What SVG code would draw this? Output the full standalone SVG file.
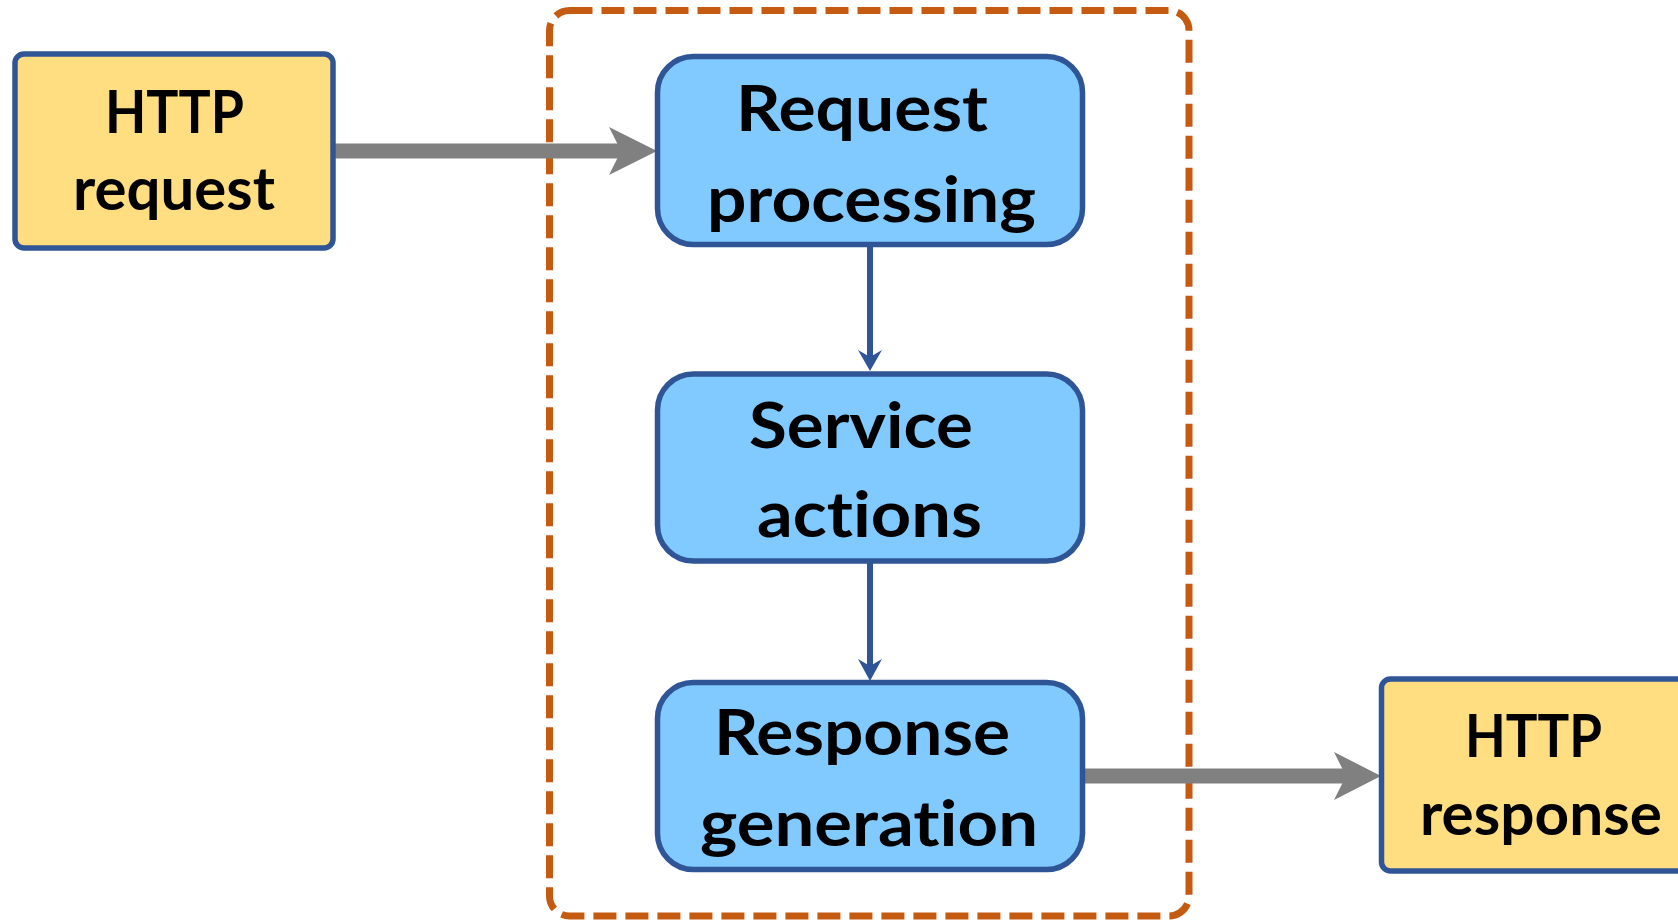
<svg xmlns="http://www.w3.org/2000/svg" width="1678" height="920" viewBox="0 0 1678 920">
  <style>
    .io { fill: #FFDE81; stroke: #2F5597; stroke-width: 5.5; }
    .step { fill: #80CAFF; stroke: #2F5597; stroke-width: 5.5; }
    .lbl { font-family: Lato, "Open Sans", "Liberation Sans", sans-serif; font-weight: bold; fill: #000; font-variant-ligatures: none; font-feature-settings: "liga" 0, "clig" 0; }
    .big { font-size: 64px; }
    .mid { font-size: 60px; }
    .gray { stroke: #808080; stroke-width: 15; fill: none; }
    .blue { stroke: #2F5597; stroke-width: 6; fill: none; }
  </style>
  <rect width="1678" height="920" fill="#FFFFFF"/>

  <g id="container">
    <rect x="549.5" y="10.5" width="639.5" height="905.5" rx="20" ry="20" fill="none" stroke="#C55A11" stroke-width="7" stroke-dasharray="23 9"/>
  </g>

  <g id="connectors">
    <line class="gray" x1="334" y1="151" x2="622" y2="151"/>
    <polygon points="657,151 609,127 621,151 609,175" fill="#808080"/>
    <line class="gray" x1="1083" y1="776" x2="1346" y2="776"/>
    <polygon points="1381,776 1334,752 1346,776 1334,800" fill="#808080"/>
    <line class="blue" x1="870" y1="246" x2="870" y2="360"/>
    <polygon points="870,371 858,350 870,357 882,350" fill="#2F5597"/>
    <line class="blue" x1="870" y1="563" x2="870" y2="670"/>
    <polygon points="870,681 858,659 870,666 882,659" fill="#2F5597"/>
  </g>

  <g id="http-request">
    <rect class="io" x="15" y="54" width="318" height="194" rx="9" ry="9"/>
    <text class="lbl mid" x="105" y="133" textLength="139" lengthAdjust="spacingAndGlyphs">HTTP</text>
    <text class="lbl mid" x="73" y="210" textLength="202" lengthAdjust="spacingAndGlyphs">request</text>
  </g>

  <g id="request-processing">
    <rect class="step" x="657.5" y="56.5" width="425" height="188" rx="36" ry="36"/>
    <text class="lbl big" x="736" y="131" textLength="252" lengthAdjust="spacingAndGlyphs">Request</text>
    <text class="lbl big" x="707" y="222" textLength="329" lengthAdjust="spacingAndGlyphs">processing</text>
  </g>

  <g id="service-actions">
    <rect class="step" x="657.5" y="374" width="425" height="187" rx="36" ry="36"/>
    <text class="lbl big" x="749" y="448" textLength="224" lengthAdjust="spacingAndGlyphs">Service</text>
    <text class="lbl big" x="757" y="537" textLength="225" lengthAdjust="spacingAndGlyphs">actions</text>
  </g>

  <g id="response-generation">
    <rect class="step" x="657.5" y="682.5" width="425" height="187" rx="36" ry="36"/>
    <text class="lbl big" x="714" y="755" textLength="296" lengthAdjust="spacingAndGlyphs">Response</text>
    <text class="lbl big" x="700" y="846" textLength="338" lengthAdjust="spacingAndGlyphs">generation</text>
  </g>

  <g id="http-response">
    <rect class="io" x="1381.5" y="679" width="318" height="192" rx="9" ry="9"/>
    <text class="lbl mid" x="1465" y="757" textLength="137" lengthAdjust="spacingAndGlyphs">HTTP</text>
    <text class="lbl mid" x="1420" y="835" textLength="242" lengthAdjust="spacingAndGlyphs">response</text>
  </g>
</svg>
